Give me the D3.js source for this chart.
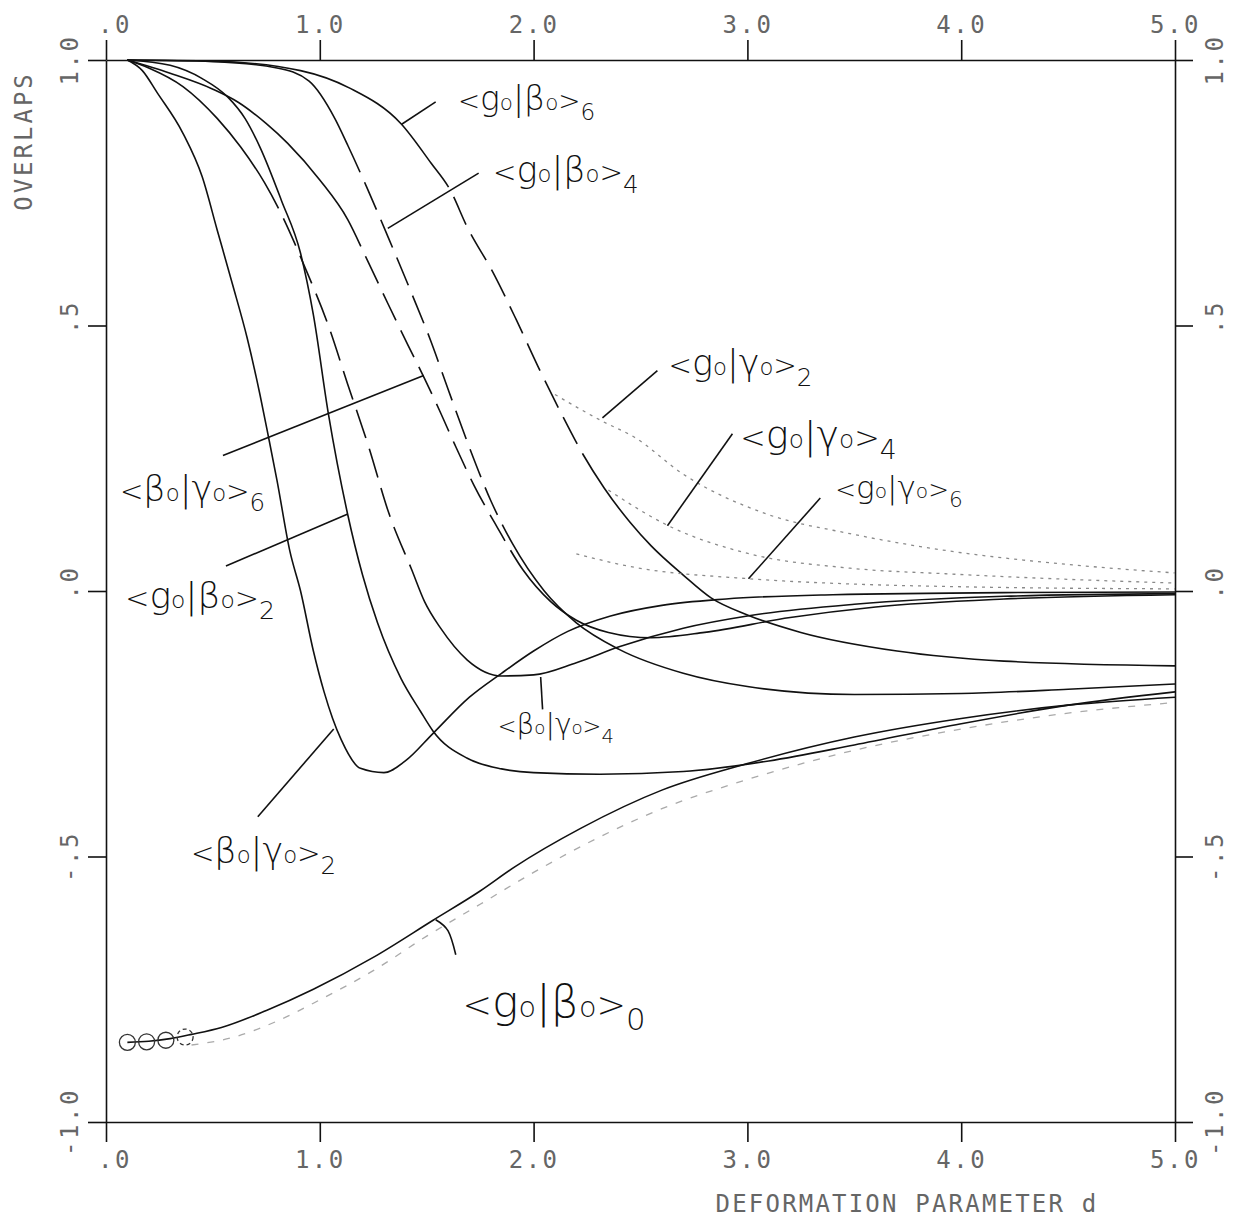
<!DOCTYPE html>
<html>
<head>
<meta charset="utf-8">
<script src="https://cdn.jsdelivr.net/npm/d3@7"></script>
<style>
  body { margin: 0; background: #fff; }
</style>
</head>
<body>
<script>
// ticks
var xTicks = [0, 1, 2, 3, 4, 5];
var xTickLabels = [" .0", "1.0", "2.0", "3.0", "4.0", "5.0"];
var yTicks = [1, 0.5, 0, -0.5, -1];
var yTickLabels = ["1.0", " .5", " .0", "-.5", "-1.0"];

// overlaps, [d, value]
var betaGamma2 = [[0.1,1.0],[0.17,0.98],[0.24,0.938],[0.36,0.862],[0.45,0.78],[0.52,0.68],[0.59,0.58],[0.66,0.477],[0.72,0.37],[0.76,0.29],[0.8,0.208],[0.86,0.075],[0.91,0.0],[0.97,-0.113],[1.02,-0.19],[1.06,-0.24],[1.1,-0.28],[1.19,-0.334],[1.3,-0.342],[1.4,-0.32],[1.53,-0.268],[1.7,-0.2],[1.85,-0.155],[2.0,-0.113],[2.16,-0.076],[2.36,-0.047],[2.6,-0.027],[2.9,-0.015],[3.4,-0.007],[4.2,-0.003],[5.0,-0.002]];
var betaGamma4 = [[0.1,1.0],[0.2,0.985],[0.36,0.95],[0.52,0.89],[0.63,0.836],[0.74,0.77],[0.82,0.71],[0.93,0.61],[1.04,0.5],[1.13,0.39],[1.23,0.27],[1.32,0.15],[1.43,0.04],[1.49,-0.02],[1.565,-0.07],[1.69,-0.13],[1.85,-0.16],[2.0,-0.158],[2.2,-0.135],[2.4,-0.105],[2.7,-0.07],[3.0,-0.047],[3.5,-0.025],[4.2,-0.01],[5.0,-0.005]];
var betaGamma6 = [[0.1,1.0],[0.3,0.975],[0.5,0.945],[0.62,0.92],[0.75,0.88],[0.85,0.843],[1.0,0.774],[1.13,0.7],[1.22,0.625],[1.32,0.54],[1.41,0.465],[1.49,0.4],[1.56,0.34],[1.63,0.277],[1.72,0.2],[1.83,0.12],[1.95,0.04],[2.08,-0.02],[2.2,-0.055],[2.35,-0.078],[2.55,-0.088],[2.8,-0.078],[3.2,-0.05],[3.6,-0.03],[4.2,-0.015],[5.0,-0.007]];
var groundBeta2 = [[0.1,1.0],[0.3,0.99],[0.45,0.965],[0.57,0.93],[0.65,0.89],[0.72,0.836],[0.82,0.736],[0.91,0.636],[0.97,0.52],[1.04,0.334],[1.13,0.145],[1.2,0.03],[1.27,-0.06],[1.38,-0.165],[1.47,-0.226],[1.53,-0.264],[1.69,-0.315],[1.85,-0.335],[2.0,-0.342],[2.31,-0.345],[2.7,-0.34],[3.1,-0.32],[3.5,-0.29],[4.0,-0.25],[4.5,-0.215],[5.0,-0.19]];
var groundBeta4 = [[0.1,1.0],[0.5,0.997],[0.8,0.985],[0.95,0.96],[1.07,0.89],[1.13,0.84],[1.22,0.76],[1.32,0.666],[1.43,0.56],[1.52,0.47],[1.6,0.38],[1.7,0.27],[1.8,0.17],[1.9,0.09],[2.05,0.0],[2.2,-0.06],[2.4,-0.11],[2.7,-0.155],[3.0,-0.18],[3.5,-0.195],[4.0,-0.193],[4.5,-0.185],[5.0,-0.175]];
var groundBeta6 = [[0.1,1.0],[0.5,0.998],[0.91,0.98],[1.14,0.947],[1.38,0.88],[1.52,0.806],[1.61,0.755],[1.69,0.685],[1.81,0.6],[1.92,0.51],[2.03,0.415],[2.13,0.334],[2.23,0.258],[2.33,0.194],[2.45,0.13],[2.55,0.085],[2.7,0.03],[2.83,-0.013],[3.0,-0.045],[3.25,-0.078],[3.7,-0.113],[4.2,-0.132],[5.0,-0.141]];
var groundGamma2 = [[2.1,0.37],[2.32,0.32],[2.47,0.29],[2.7,0.22],[3.09,0.145],[3.48,0.108],[3.95,0.075],[4.5,0.05],[5.0,0.034]];
var groundGamma4 = [[2.35,0.19],[2.63,0.123],[3.01,0.07],[3.48,0.043],[3.95,0.032],[4.5,0.022],[5.0,0.015]];
var groundGamma6 = [[2.2,0.07],[2.44,0.047],[3.01,0.023],[3.5,0.013],[4.0,0.008],[5.0,0.004]];
var groundBeta0 = [[0.1,-0.85],[0.2,-0.848],[0.3,-0.843],[0.4,-0.835],[0.54,-0.822],[0.75,-0.79],[0.97,-0.75],[1.25,-0.69],[1.53,-0.62],[1.75,-0.565],[1.91,-0.52],[2.22,-0.447],[2.6,-0.375],[3.0,-0.325],[3.5,-0.275],[4.0,-0.24],[4.5,-0.215],[5.0,-0.2]];
var groundBeta0Approx = [[0.4,-0.855],[0.6,-0.84],[0.8,-0.81],[1.0,-0.77],[1.25,-0.715],[1.5,-0.65],[1.75,-0.59],[2.0,-0.53],[2.3,-0.465],[2.6,-0.41],[3.0,-0.355],[3.5,-0.3],[4.0,-0.26],[4.5,-0.23],[5.0,-0.21]];
var groundBeta0Marks = [[0.1,-0.85],[0.19,-0.849],[0.28,-0.846],[0.37,-0.84]];

var svg = d3.select("body").append("svg").attr("width", 1235).attr("height", 1226);

var x = d3.scaleLinear().domain([0, 5]).range([106, 1175]);
var y = d3.scaleLinear().domain([-1, 1]).range([1122, 60]);

var tickFont = "DejaVu Sans Mono";
var inkColor = "#111";
var tickColor = "#666";

// frame: four axes, end ticks make the little overhang at the corners
function styleAxis(g) {
    g.selectAll("path,line").attr("stroke", inkColor).attr("stroke-width", 1.6);
    g.selectAll("text").attr("font-family", tickFont).attr("font-size", 24)
        .attr("fill", tickColor).attr("letter-spacing", 2.5).style("white-space", "pre");
}
var fmtX = function (d, i) { return xTickLabels[i]; };

svg.append("g").attr("transform", "translate(0," + y(1) + ")")
    .call(d3.axisTop(x).tickValues(xTicks).tickFormat(fmtX).tickSize(20).tickSizeOuter(0).tickPadding(7))
    .call(styleAxis);
svg.append("g").attr("transform", "translate(0," + y(-1) + ")")
    .call(d3.axisBottom(x).tickValues(xTicks).tickFormat(fmtX).tickSize(20).tickSizeOuter(0).tickPadding(9))
    .call(styleAxis);
svg.append("g").attr("transform", "translate(" + x(0) + ",0)")
    .call(d3.axisLeft(y).tickValues(yTicks).tickFormat("").tickSize(18).tickSizeOuter(0))
    .call(styleAxis);
svg.append("g").attr("transform", "translate(" + x(5) + ",0)")
    .call(d3.axisRight(y).tickValues(yTicks).tickFormat("").tickSize(18).tickSizeOuter(0))
    .call(styleAxis);

// rotated y labels on both sides
[x(0) - 28, x(5) + 48].forEach(function (sx) {
    svg.append("g").selectAll("text").data(yTicks).enter().append("text")
        .attr("transform", function (d) { return "translate(" + sx + "," + y(d) + ") rotate(-90)"; })
        .attr("text-anchor", "middle")
        .attr("font-family", tickFont).attr("font-size", 24).attr("letter-spacing", 2.5)
        .attr("fill", tickColor).style("white-space", "pre")
        .text(function (d, i) { return yTickLabels[i]; });
});

svg.append("text").attr("transform", "translate(32,141) rotate(-90)")
    .attr("text-anchor", "middle").attr("font-family", tickFont).attr("font-size", 24)
    .attr("letter-spacing", 3).attr("fill", tickColor).text("OVERLAPS");
svg.append("text").attr("x", 907).attr("y", 1212)
    .attr("text-anchor", "middle").attr("font-family", tickFont).attr("font-size", 24)
    .attr("letter-spacing", 2.2).attr("fill", tickColor).text("DEFORMATION PARAMETER d");

// curves
var line = d3.line()
    .x(function (p) { return x(p[0]); })
    .y(function (p) { return y(p[1]); })
    .curve(d3.curveMonotoneX);

// which stretches of each curve the plotter drew broken
var curves = [
    { data: betaGamma2, broken: [] },
    { data: betaGamma4, broken: [[0.74, 1.49]] },
    { data: betaGamma6, broken: [[1.13, 1.95]] },
    { data: groundBeta2, broken: [] },
    { data: groundBeta4, broken: [[1.13, 1.9]] },
    { data: groundBeta6, broken: [[1.52, 2.33]] }
];

var dashOn = 30, dashOff = 11;

function brokenDash(node, ranges) {
    var total = node.getTotalLength();
    function lenAt(d) {
        var px = x(d), lo = 0, hi = total;
        for (var k = 0; k < 30; k++) {
            var mid = (lo + hi) / 2;
            if (node.getPointAtLength(mid).x < px) lo = mid; else hi = mid;
        }
        return lo;
    }
    var arr = [], pos = 0;
    ranges.forEach(function (r) {
        var a = lenAt(r[0]), b = lenAt(r[1]);
        arr.push(a - pos, 0);
        pos = a;
        while (pos + dashOn + dashOff <= b) { arr.push(dashOn, dashOff); pos += dashOn + dashOff; }
    });
    arr.push(total - pos + 20, 0);
    return arr.join(" ");
}

curves.forEach(function (c) {
    var p = svg.append("path")
        .attr("d", line(c.data))
        .attr("fill", "none")
        .attr("stroke", inkColor)
        .attr("stroke-width", 1.6);
    if (c.broken.length) p.attr("stroke-dasharray", brokenDash(p.node(), c.broken));
});

[groundGamma2, groundGamma4, groundGamma6].forEach(function (s) {
    svg.append("path").attr("d", line(s)).attr("fill", "none")
        .attr("stroke", "#8a8a8a").attr("stroke-width", 1.3).attr("stroke-dasharray", "3 5");
});

svg.append("path").attr("d", line(groundBeta0Approx)).attr("fill", "none")
    .attr("stroke", "#aaa").attr("stroke-width", 1.3).attr("stroke-dasharray", "7 9");
svg.append("path").attr("d", line(groundBeta0)).attr("fill", "none")
    .attr("stroke", inkColor).attr("stroke-width", 1.6);
svg.selectAll("circle.mark").data(groundBeta0Marks).enter().append("circle")
    .attr("class", "mark")
    .attr("cx", function (p) { return x(p[0]); })
    .attr("cy", function (p) { return y(p[1]); })
    .attr("r", 8)
    .attr("fill", "none")
    .attr("stroke", "#333")
    .attr("stroke-width", 1.3)
    .attr("stroke-dasharray", function (p, i) { return i == 3 ? "4 3" : null; });

// hand lettered labels with their leader lines
var notes = [
    { a: "g", b: "β", j: "6", at: [1.646, 0.906], size: 33, lead: [[1.383, 0.879], [1.542, 0.921]] },
    { a: "g", b: "β", j: "4", at: [1.81, 0.77], size: 35, lead: [[1.318, 0.683], [1.743, 0.787]] },
    { a: "g", b: "γ", j: "2", at: [2.631, 0.406], size: 35, lead: [[2.322, 0.326], [2.579, 0.415]] },
    { a: "g", b: "γ", j: "4", at: [2.967, 0.27], size: 38, lead: [[2.626, 0.123], [2.93, 0.296]] },
    { a: "g", b: "γ", j: "6", at: [3.411, 0.175], size: 31, lead: [[3.005, 0.023], [3.341, 0.175]] },
    { a: "β", b: "γ", j: "6", at: [0.065, 0.17], size: 35, lead: [[0.547, 0.255], [1.486, 0.406]] },
    { a: "g", b: "β", j: "2", at: [0.09, -0.032], size: 36, lead: [[0.561, 0.047], [1.131, 0.145]] },
    { a: "β", b: "γ", j: "4", at: [1.832, -0.27], size: 28, lead: [[2.033, -0.162], [2.042, -0.223]] },
    { a: "β", b: "γ", j: "2", at: [0.397, -0.513], size: 35, lead: [[0.71, -0.425], [1.065, -0.26]] },
    { a: "g", b: "β", j: "0", at: [1.668, -0.802], size: 44, lead: [[1.542, -0.619], [1.6, -0.64], [1.636, -0.685]] }
];

var leadLine = d3.line()
    .x(function (p) { return x(p[0]); })
    .y(function (p) { return y(p[1]); })
    .curve(d3.curveNatural);

notes.forEach(function (n) {
    svg.append("path").attr("d", leadLine(n.lead)).attr("fill", "none")
        .attr("stroke", inkColor).attr("stroke-width", 1.6);
    var t = svg.append("text")
        .attr("x", x(n.at[0])).attr("y", y(n.at[1]))
        .attr("font-family", "DejaVu Sans").attr("font-weight", 200)
        .attr("font-size", n.size).attr("fill", inkColor);
    t.append("tspan").attr("font-size", n.size * 0.8).text("<");
    t.append("tspan").text(n.a);
    t.append("tspan").attr("font-size", n.size * 0.65).text("o");
    t.append("tspan").text("|");
    t.append("tspan").text(n.b);
    t.append("tspan").attr("font-size", n.size * 0.65).text("o");
    t.append("tspan").attr("font-size", n.size * 0.8).text(">");
    t.append("tspan").attr("font-size", n.size * 0.7).attr("dy", n.size * 0.3).text(n.j);
});
</script>
</body>
</html>
